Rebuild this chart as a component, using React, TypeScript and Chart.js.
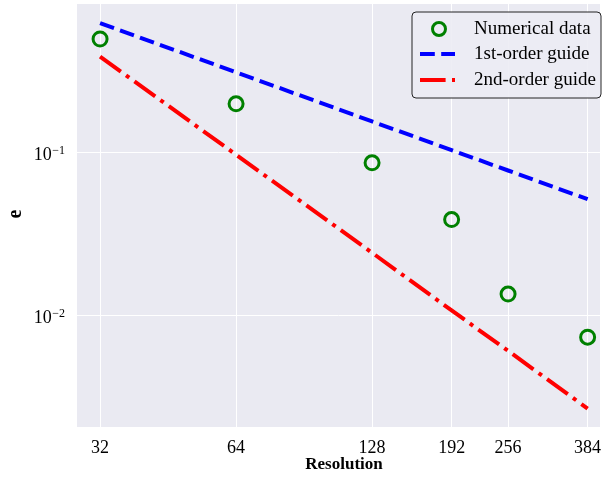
import React, { useEffect, useRef } from "react";
import { Chart, registerables } from "chart.js";

Chart.register(...registerables);

const resolutions = [32, 64, 128, 192, 256, 384];
const numericalError = [0.5, 0.2, 0.087, 0.039, 0.0136, 0.0074];
const firstOrderGuide = [0.625, 0.3125, 0.156, 0.104, 0.078, 0.052];
const secondOrderGuide = [0.39, 0.0975, 0.0244, 0.0108, 0.0061, 0.0027];
const xTicks = [32, 64, 128, 192, 256, 384];
const yTicks = [0.01, 0.1];
const yTickExponents: Record<string, string> = { "0.01": "−2", "0.1": "−1" };
const legendLabels = ["Numerical data", "1st-order guide", "2nd-order guide"];
const xTitle = "Resolution";
const yTitle = "e";

const SERIF = "'Liberation Serif', 'DejaVu Serif', serif";

const bgPlugin = {
  id: "bgPlugin",
  beforeDraw(chart: any) {
    const { ctx, chartArea } = chart;
    ctx.save();
    ctx.fillStyle = "#EAEAF2";
    ctx.fillRect(chartArea.left, chartArea.top, chartArea.right - chartArea.left, chartArea.bottom - chartArea.top);
    ctx.restore();
  },
  afterDraw(chart: any) {
    const { ctx, chartArea } = chart;
    ctx.save();
    // y tick labels as 10^n
    const yScale = chart.scales.y;
    ctx.fillStyle = "#000";
    ctx.textBaseline = "alphabetic";
    yTicks.forEach((v) => {
      const py = yScale.getPixelForValue(v);
      const exp = yTickExponents[String(v)];
      ctx.font = `12px ${SERIF}`;
      ctx.textAlign = "right";
      const ew = ctx.measureText(exp).width;
      ctx.fillText(exp, 65, py + 1);
      ctx.font = `18px ${SERIF}`;
      ctx.fillText("10", 65 - ew - 0.5, py + 7);
    });

    // axis titles
    ctx.font = `bold 17px ${SERIF}`;
    ctx.textAlign = "center";
    ctx.textBaseline = "middle";
    ctx.fillText(xTitle, 344, 465);
    ctx.save();
    ctx.translate(16, 214);
    ctx.rotate(-Math.PI / 2);
    ctx.font = `bold 20px ${SERIF}`;
    ctx.fillText(yTitle, 0, 0);
    ctx.restore();

    // legend
    const lx = 412, ly = 12, lw = 189, lh = 86, r = 4;
    ctx.beginPath();
    ctx.moveTo(lx + r, ly);
    ctx.lineTo(lx + lw - r, ly);
    ctx.arcTo(lx + lw, ly, lx + lw, ly + r, r);
    ctx.lineTo(lx + lw, ly + lh - r);
    ctx.arcTo(lx + lw, ly + lh, lx + lw - r, ly + lh, r);
    ctx.lineTo(lx + r, ly + lh);
    ctx.arcTo(lx, ly + lh, lx, ly + lh - r, r);
    ctx.lineTo(lx, ly + r);
    ctx.arcTo(lx, ly, lx + r, ly, r);
    ctx.closePath();
    ctx.fillStyle = "rgba(236,236,244,0.9)";
    ctx.fill();
    ctx.strokeStyle = "rgba(0,0,0,0.85)";
    ctx.lineWidth = 1;
    ctx.stroke();

    const rows = [29, 54, 80];
    ctx.beginPath();
    ctx.arc(439, rows[0], 6.5, 0, Math.PI * 2);
    ctx.strokeStyle = "#008000";
    ctx.lineWidth = 3;
    ctx.stroke();
    ctx.beginPath();
    ctx.setLineDash([14.8, 6.4]);
    ctx.moveTo(420, rows[1]);
    ctx.lineTo(455, rows[1]);
    ctx.strokeStyle = "#0000FF";
    ctx.lineWidth = 4;
    ctx.stroke();
    ctx.beginPath();
    ctx.setLineDash([25.6, 6.4, 4, 6.4]);
    ctx.moveTo(420, rows[2]);
    ctx.lineTo(455, rows[2]);
    ctx.strokeStyle = "#FF0000";
    ctx.stroke();
    ctx.setLineDash([]);

    ctx.fillStyle = "#000";
    ctx.font = `19px ${SERIF}`;
    ctx.textAlign = "left";
    ctx.textBaseline = "middle";
    legendLabels.forEach((t, i) => ctx.fillText(t, 474, rows[i]));
    ctx.restore();
  },
};

export default function App() {
  const ref = useRef<HTMLCanvasElement>(null);
  useEffect(() => {
    if (!ref.current) return;
    const chart = new Chart(ref.current, {
      type: "scatter",
      data: {
        datasets: [
          {
            label: legendLabels[1],
            data: resolutions.map((x, i) => ({ x, y: firstOrderGuide[i] })),
            showLine: true,
            borderColor: "#0000FF",
            borderWidth: 4,
            borderDash: [14.8, 6.4],
            pointRadius: 0,
            fill: false,
          } as any,
          {
            label: legendLabels[2],
            data: resolutions.map((x, i) => ({ x, y: secondOrderGuide[i] })),
            showLine: true,
            borderColor: "#FF0000",
            borderWidth: 4,
            borderDash: [25.6, 6.4, 4, 6.4],
            pointRadius: 0,
            fill: false,
          } as any,
          {
            label: legendLabels[0],
            data: resolutions.map((x, i) => ({ x, y: numericalError[i] })),
            showLine: false,
            pointStyle: "circle",
            pointRadius: 7,
            pointBorderWidth: 3,
            pointBorderColor: "#008000",
            pointBackgroundColor: "rgba(0,0,0,0)",
          } as any,
        ],
      },
      options: {
        animation: false,
        responsive: false,
        maintainAspectRatio: false,
        layout: { autoPadding: false, padding: { top: 4, right: 3, left: 0, bottom: 0 } },
        plugins: { legend: { display: false }, tooltip: { enabled: false } },
        scales: {
          x: {
            type: "logarithmic",
            min: 28.45,
            max: 409,
            afterBuildTicks: (scale: any) => {
              scale.ticks = xTicks.map((v) => ({ value: v }));
            },
            afterFit: (scale: any) => {
              scale.height = 51;
              scale.paddingLeft = 0;
              scale.paddingRight = 0;
            },
            ticks: {
              callback: (v: any) => String(v),
              font: { family: SERIF, size: 18 },
              color: "#000",
              padding: 10,
              maxRotation: 0,
              autoSkip: false,
            },
            grid: { color: "#FFFFFF", lineWidth: 1, drawTicks: false },
            border: { display: false },
          },
          y: {
            type: "logarithmic",
            min: 0.00208,
            max: 0.82,
            afterBuildTicks: (scale: any) => {
              scale.ticks = yTicks.map((v) => ({ value: v }));
            },
            afterFit: (scale: any) => {
              scale.width = 77;
              scale.paddingTop = 0;
              scale.paddingBottom = 0;
            },
            ticks: {
              display: false,
              autoSkip: false,
            },
            grid: { color: "#FFFFFF", lineWidth: 1, drawTicks: false },
            border: { display: false },
          },
        },
      } as any,
      plugins: [bgPlugin],
    });
    return () => chart.destroy();
  }, []);
  return (
    <div style={{ position: "fixed", left: 0, top: 0, width: 603, height: 478, background: "#fff" }}>
      <canvas ref={ref} width={603} height={478} style={{ width: 603, height: 478 }} />
    </div>
  );
}
